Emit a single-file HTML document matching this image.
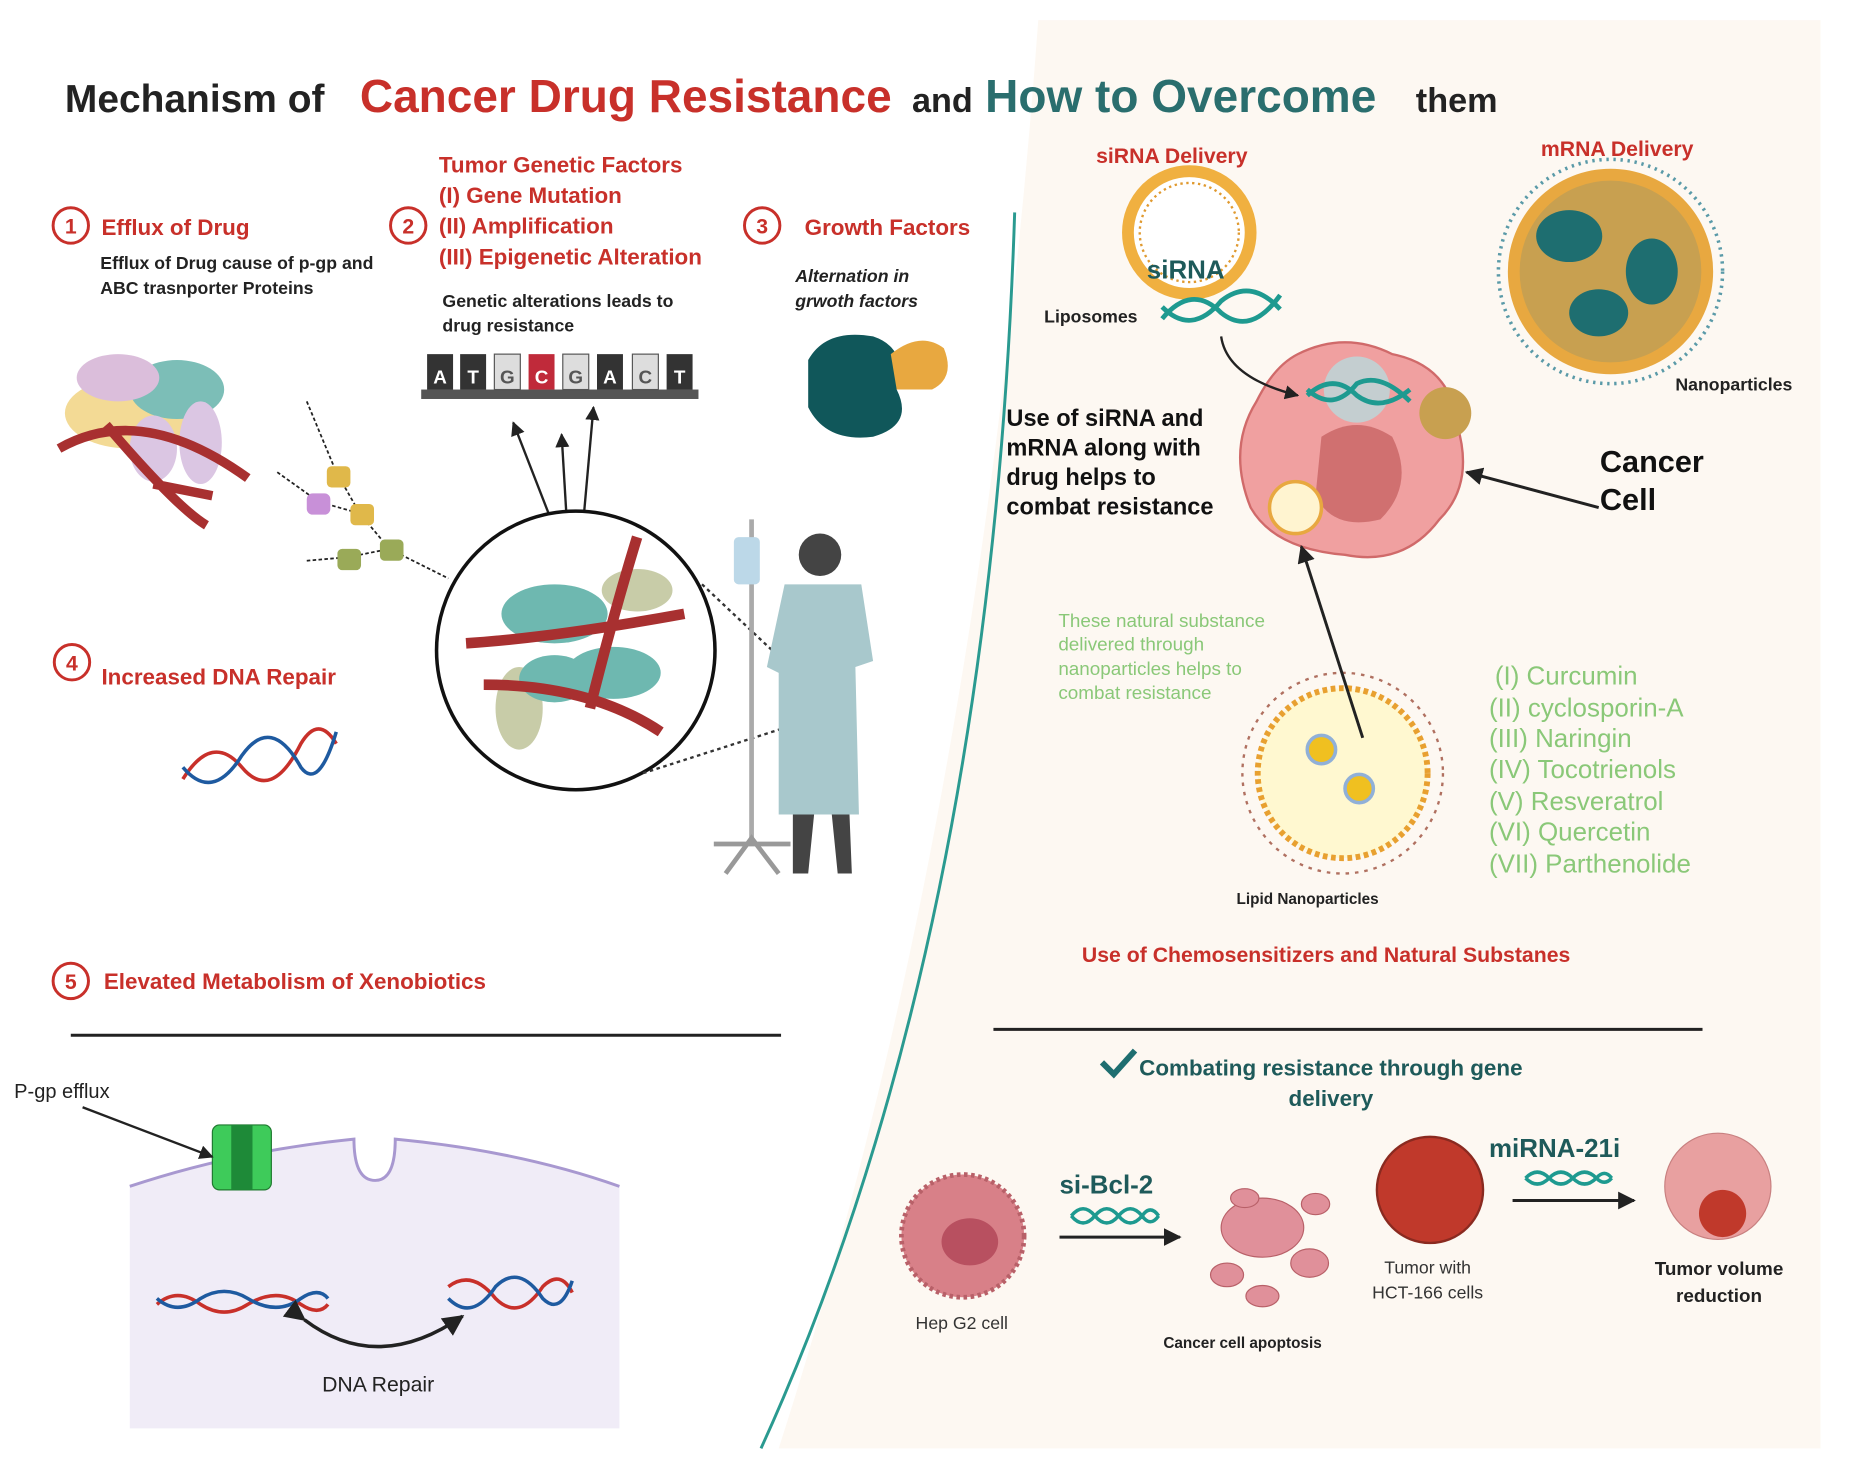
<!DOCTYPE html>
<html><head><meta charset="utf-8"><style>
html,body{margin:0;padding:0;background:#fff}
svg{display:block}
text{font-family:"Liberation Sans",sans-serif}
</style></head><body>
<svg width="1850" height="1472" viewBox="0 0 1568 1247" preserveAspectRatio="none" xmlns="http://www.w3.org/2000/svg">
<defs>
<marker id="ah" viewBox="0 0 10 10" refX="9" refY="5" markerWidth="6" markerHeight="6" orient="auto"><path d="M0,0L10,5L0,10z" fill="#222"/></marker>
</defs>
<rect width="1568" height="1247" fill="#fff"/>
<path d="M880,17 L1543,17 L1543,1227 L660,1227 Q830,700 880,17z" fill="#fdf8f2"/>
<path d="M860,180 Q840,800 645,1227" fill="none" stroke="#2a9a90" stroke-width="2.5"/>
<text x="55" y="95" font-size="33" font-weight="bold" fill="#222">Mechanism of</text>
<text x="305" y="95" font-size="39" font-weight="bold" fill="#c8302a">Cancer Drug Resistance</text>
<text x="773" y="95" font-size="29" font-weight="bold" fill="#222">and</text>
<text x="835" y="95" font-size="39" font-weight="bold" fill="#2a6e6e">How to Overcome</text>
<text x="1200" y="95" font-size="29" font-weight="bold" fill="#222">them</text>
<g fill="none" stroke="#c8302a" stroke-width="2.5"><circle cx="60" cy="191" r="15"/><circle cx="346" cy="191" r="15"/><circle cx="646" cy="191" r="15"/><circle cx="61" cy="561" r="15"/><circle cx="60" cy="831" r="15"/></g>
<g fill="#c8302a" font-size="18" font-weight="bold" text-anchor="middle"><text x="60" y="198">1</text><text x="346" y="198">2</text><text x="646" y="198">3</text><text x="61" y="568">4</text><text x="60" y="838">5</text></g>
<g fill="#c8302a" font-size="19" font-weight="bold">
<text x="86" y="199">Efflux of Drug</text>
<text x="372" y="146">Tumor Genetic Factors</text>
<text x="372" y="172">(I) Gene Mutation</text>
<text x="372" y="198">(II) Amplification</text>
<text x="372" y="224">(III)  Epigenetic Alteration</text>
<text x="682" y="199">Growth Factors</text>
<text x="86" y="580">Increased DNA Repair</text>
<text x="88" y="838">Elevated Metabolism of Xenobiotics</text>
</g>
<g fill="#222" font-size="15" font-weight="bold">
<text x="85" y="228">Efflux of Drug cause of p-gp and</text>
<text x="85" y="249">ABC trasnporter Proteins</text>
<text x="375" y="260">Genetic alterations leads to</text>
<text x="375" y="281">drug resistance</text>
<text x="674" y="239" font-style="italic">Alternation in</text>
<text x="674" y="260" font-style="italic">grwoth factors</text>
</g>
<g opacity="0.9">
<ellipse cx="110" cy="350" rx="55" ry="30" fill="#f2d68a"/>
<ellipse cx="150" cy="330" rx="40" ry="25" fill="#6eb8b0"/>
<ellipse cx="100" cy="320" rx="35" ry="20" fill="#d8b8d8"/>
<ellipse cx="170" cy="375" rx="18" ry="35" fill="#d8c0e0"/>
<ellipse cx="130" cy="380" rx="20" ry="28" fill="#d8c0e0"/>
</g>
<path d="M50,380 Q120,340 210,405 M90,360 Q150,430 175,445 M130,410 L180,420" stroke="#a83030" stroke-width="8" fill="none"/>
<path d="M260,340 L285,400 L305,435 L330,465 L380,490 M235,400 L270,425 L305,435 M260,475 L295,472 L330,465" stroke="#222" stroke-width="1.5" fill="none" stroke-dasharray="3 2"/>
<rect x="277" y="395" width="20" height="18" rx="4" fill="#e0b84a"/><rect x="297" y="427" width="20" height="18" rx="4" fill="#e0b84a"/>
<rect x="260" y="418" width="20" height="18" rx="5" fill="#c890d8"/><rect x="286" y="465" width="20" height="18" rx="4" fill="#9aaa58"/><rect x="322" y="457" width="20" height="18" rx="4" fill="#9aaa58"/>
<rect x="357" y="330" width="235" height="8" fill="#555"/>
<g font-size="16" font-weight="bold" text-anchor="middle">
<rect x="362" y="300" width="22" height="30" fill="#333"/><text x="373" y="325" fill="#fff">A</text>
<rect x="390" y="300" width="22" height="30" fill="#333"/><text x="401" y="325" fill="#fff">T</text>
<rect x="419" y="300" width="22" height="30" fill="#ddd" stroke="#555"/><text x="430" y="325" fill="#555">G</text>
<rect x="448" y="300" width="22" height="30" fill="#c02a3a"/><text x="459" y="325" fill="#fff">C</text>
<rect x="477" y="300" width="22" height="30" fill="#ddd" stroke="#555"/><text x="488" y="325" fill="#555">G</text>
<rect x="506" y="300" width="22" height="30" fill="#333"/><text x="517" y="325" fill="#fff">A</text>
<rect x="536" y="300" width="22" height="30" fill="#ddd" stroke="#555"/><text x="547" y="325" fill="#555">C</text>
<rect x="565" y="300" width="22" height="30" fill="#333"/><text x="576" y="325" fill="#fff">T</text>
</g>
<g stroke="#222" stroke-width="2" marker-end="url(#ah)"><line x1="465" y1="435" x2="435" y2="358"/><line x1="480" y1="435" x2="476" y2="368"/><line x1="495" y1="435" x2="503" y2="345"/></g>
<path d="M685,305 Q700,278 740,285 Q770,295 760,330 Q775,360 740,370 Q700,375 685,345z" fill="#10575a"/>
<path d="M755,300 Q780,280 800,295 Q810,320 790,330 L760,330z" fill="#e8a840"/>
<circle cx="488" cy="551" r="118" fill="#fff" stroke="#111" stroke-width="3"/>
<ellipse cx="470" cy="520" rx="45" ry="25" fill="#6eb8b0"/><ellipse cx="520" cy="570" rx="40" ry="22" fill="#6eb8b0"/><ellipse cx="440" cy="600" rx="20" ry="35" fill="#c8cca8"/><ellipse cx="540" cy="500" rx="30" ry="18" fill="#c8cca8"/><ellipse cx="470" cy="575" rx="30" ry="20" fill="#6eb8b0"/>
<path d="M395,545 Q470,540 580,520 M410,580 Q500,580 560,620 M540,455 Q520,520 500,600" stroke="#a83030" stroke-width="9" fill="none"/>
<path d="M595,495 L680,575 M545,655 L670,615" stroke="#333" stroke-width="2" stroke-dasharray="3 3"/>
<line x1="637" y1="440" x2="637" y2="710" stroke="#aaa" stroke-width="4"/>
<path d="M605,715 L670,715 M615,740 L637,710 L660,740" stroke="#999" stroke-width="4" fill="none"/>
<rect x="622" y="455" width="22" height="40" rx="4" fill="#bcd8e8"/>
<circle cx="695" cy="470" r="18" fill="#444"/>
<path d="M665,495 L730,495 L740,560 L725,565 L728,690 L660,690 L660,570 L650,565z" fill="#a8c8cc"/>
<path d="M672,690 L672,740 L685,740 L690,690 M705,690 L710,740 L722,740 L720,690" fill="#444"/>
<g fill="none" stroke-width="3"><path d="M155,660 Q180,620 205,650 Q230,680 255,630 Q270,605 285,630" stroke="#c8302a"/><path d="M155,650 Q180,680 205,640 Q230,605 255,650 Q270,670 285,620" stroke="#1e5aa0"/></g>
<line x1="60" y1="877" x2="662" y2="877" stroke="#222" stroke-width="2.5"/>
<path d="M110,1005 Q200,975 300,965 Q300,1000 318,1000 Q335,1000 335,965 Q440,975 525,1005 L525,1210 L110,1210z" fill="#f0ecf7"/>
<path d="M110,1005 Q200,975 300,965 Q300,1000 318,1000 Q335,1000 335,965 Q440,975 525,1005" fill="none" stroke="#a898d0" stroke-width="2.5"/>
<rect x="180" y="953" width="50" height="55" rx="6" fill="#3ecb5a" stroke="#207a30"/><rect x="196" y="953" width="18" height="55" fill="#1e8a38"/>
<text x="12" y="930" font-size="17" fill="#222">P-gp efflux</text>
<line x1="70" y1="938" x2="180" y2="980" stroke="#222" stroke-width="2" marker-end="url(#ah)"/>
<g fill="none" stroke-width="3"><path d="M133,1105 Q150,1090 170,1105 Q190,1118 210,1105 Q235,1090 255,1105 Q270,1115 278,1105" stroke="#c8302a"/><path d="M133,1100 Q150,1115 170,1100 Q190,1088 210,1100 Q235,1115 255,1100 Q270,1090 278,1100" stroke="#1e5aa0"/>
<path d="M380,1090 Q400,1075 420,1100 Q440,1120 460,1090 Q475,1075 485,1095" stroke="#c8302a"/><path d="M380,1100 Q400,1120 420,1090 Q440,1070 460,1100 Q475,1115 485,1085" stroke="#1e5aa0"/>
<path d="M258,1118 Q320,1165 392,1115" stroke="#222" stroke-width="3" marker-end="url(#ah)" marker-start="url(#ah)"/></g>
<text x="273" y="1179" font-size="18" fill="#222">DNA Repair</text>
<g fill="#c8302a" font-size="18" font-weight="bold"><text x="929" y="138">siRNA Delivery</text><text x="1306" y="132">mRNA Delivery</text><text x="917" y="815">Use of Chemosensitizers and Natural Substanes</text></g>
<circle cx="1008" cy="197" r="52" fill="#fff" stroke="#f0b040" stroke-width="10"/>
<circle cx="1008" cy="197" r="42" fill="#fff" stroke="#e09a30" stroke-width="2" stroke-dasharray="2 3"/>
<text x="972" y="236" font-size="22" font-weight="bold" fill="#1e5a5a">siRNA</text>
<path d="M985,270 Q1010,240 1035,265 Q1060,285 1085,250 M985,260 Q1010,285 1035,255 Q1060,235 1085,262" fill="none" stroke="#1e9a90" stroke-width="4"/>
<text x="885" y="273" font-size="15" font-weight="bold" fill="#222">Liposomes</text>
<circle cx="1365" cy="230" r="82" fill="#c8a050" stroke="#e8a840" stroke-width="10"/>
<circle cx="1365" cy="230" r="95" fill="none" stroke="#5a9aa8" stroke-width="3" stroke-dasharray="2 4"/>
<ellipse cx="1330" cy="200" rx="28" ry="22" fill="#1e6e70"/><ellipse cx="1400" cy="230" rx="22" ry="28" fill="#1e6e70"/><ellipse cx="1355" cy="265" rx="25" ry="20" fill="#1e6e70"/>
<text x="1420" y="331" font-size="15" font-weight="bold" fill="#222">Nanoparticles</text>
<path d="M1100,300 Q1140,280 1180,300 Q1230,310 1235,360 Q1250,410 1220,440 Q1190,480 1140,470 Q1080,465 1060,430 Q1040,380 1065,340 Q1080,310 1100,300z" fill="#f0a0a0" stroke="#d06a6a" stroke-width="2"/>
<path d="M1120,370 Q1150,350 1180,370 Q1200,410 1170,440 Q1130,450 1115,420z" fill="#d07070"/>
<circle cx="1150" cy="330" r="28" fill="#bcd6d8" opacity="0.85"/>
<circle cx="1225" cy="350" r="22" fill="#c8a050"/>
<circle cx="1098" cy="430" r="22" fill="#fff4d0" stroke="#e8a840" stroke-width="3"/>
<path d="M1108,335 Q1130,315 1150,335 Q1170,350 1195,330 M1108,330 Q1130,350 1150,325 Q1170,315 1195,340" fill="none" stroke="#1e9a90" stroke-width="4"/>
<path d="M1035,285 Q1040,320 1100,335" stroke="#222" stroke-width="2" fill="none" marker-end="url(#ah)"/>
<line x1="1355" y1="430" x2="1243" y2="400" stroke="#222" stroke-width="2.5" marker-end="url(#ah)"/>
<text x="1356" y="400" font-size="26" font-weight="bold" fill="#111">Cancer</text><text x="1356" y="432" font-size="26" font-weight="bold" fill="#111">Cell</text>
<g font-size="20" font-weight="bold" fill="#111"><text x="853" y="361">Use of siRNA and</text><text x="853" y="386">mRNA along with</text><text x="853" y="411">drug helps to</text><text x="853" y="436">combat resistance</text></g>
<g font-size="16" fill="#8ac878"><text x="897" y="531">These natural substance</text><text x="897" y="551">delivered through</text><text x="897" y="572">nanoparticles helps to</text><text x="897" y="592">combat resistance</text></g>
<circle cx="1138" cy="655" r="72" fill="#fff8d0" stroke="#e8a030" stroke-width="5" stroke-dasharray="4 3"/>
<circle cx="1138" cy="655" r="85" fill="none" stroke="#b07060" stroke-width="2" stroke-dasharray="3 5"/>
<circle cx="1120" cy="635" r="12" fill="#f0c020" stroke="#90b0d8" stroke-width="3"/><circle cx="1152" cy="668" r="12" fill="#f0c020" stroke="#90b0d8" stroke-width="3"/>
<line x1="1155" y1="625" x2="1103" y2="463" stroke="#222" stroke-width="2.5" marker-end="url(#ah)"/>
<text x="1048" y="766" font-size="13" font-weight="bold" fill="#222">Lipid Nanoparticles</text>
<g font-size="22" fill="#8ac878"><text x="1267" y="580">(I) Curcumin</text><text x="1262" y="607">(II) cyclosporin-A</text><text x="1262" y="633">(III) Naringin</text><text x="1262" y="659">(IV) Tocotrienols</text><text x="1262" y="686">(V) Resveratrol</text><text x="1262" y="712">(VI) Quercetin</text><text x="1262" y="739">(VII) Parthenolide</text></g>
<line x1="842" y1="872" x2="1443" y2="872" stroke="#222" stroke-width="2.5"/>
<path d="M934,900 L944,910 L962,890" fill="none" stroke="#1e6e70" stroke-width="5"/>
<g font-size="19" font-weight="bold" fill="#1e5a5a" text-anchor="middle"><text x="1128" y="911">Combating resistance through gene</text><text x="1128" y="937">delivery</text></g>
<circle cx="816" cy="1047" r="52" fill="#d88088" stroke="#b86068" stroke-dasharray="3 3" stroke-width="4"/>
<ellipse cx="822" cy="1052" rx="24" ry="20" fill="#b85060"/>
<text x="776" y="1126" font-size="15" fill="#333">Hep G2 cell</text>
<text x="898" y="1011" font-size="22" font-weight="bold" fill="#1e5a5a">si-Bcl-2</text>
<path d="M908,1030 Q918,1018 928,1030 Q938,1042 948,1030 Q958,1018 968,1030 Q975,1040 982,1030 M908,1030 Q918,1042 928,1030 Q938,1018 948,1030 Q958,1042 968,1030 Q975,1020 982,1030" fill="none" stroke="#1e9a90" stroke-width="3"/>
<line x1="898" y1="1048" x2="1000" y2="1048" stroke="#222" stroke-width="2.5" marker-end="url(#ah)"/>
<g fill="#e0909a" stroke="#b86068"><ellipse cx="1070" cy="1040" rx="35" ry="25"/><ellipse cx="1040" cy="1080" rx="14" ry="10"/><ellipse cx="1110" cy="1070" rx="16" ry="12"/><ellipse cx="1055" cy="1015" rx="12" ry="8"/><ellipse cx="1115" cy="1020" rx="12" ry="9"/><ellipse cx="1070" cy="1098" rx="14" ry="9"/></g>
<text x="986" y="1142" font-size="13" font-weight="bold" fill="#222">Cancer cell apoptosis</text>
<circle cx="1212" cy="1008" r="45" fill="#c0392b" stroke="#8a2a20" stroke-width="2"/>
<g font-size="15" fill="#333" text-anchor="middle"><text x="1210" y="1079">Tumor with</text><text x="1210" y="1100">HCT-166 cells</text></g>
<text x="1262" y="980" font-size="22" font-weight="bold" fill="#1e5a5a">miRNA-21i</text>
<path d="M1293,998 Q1303,988 1313,998 Q1323,1008 1333,998 Q1343,988 1353,998 Q1360,1005 1366,998 M1293,998 Q1303,1008 1313,998 Q1323,988 1333,998 Q1343,1008 1353,998 Q1360,990 1366,998" fill="none" stroke="#1e9a90" stroke-width="3"/>
<line x1="1282" y1="1017" x2="1385" y2="1017" stroke="#222" stroke-width="2.5" marker-end="url(#ah)"/>
<circle cx="1456" cy="1005" r="45" fill="#e8a0a0" stroke="#c88080"/>
<circle cx="1460" cy="1028" r="20" fill="#c0392b"/>
<g font-size="16" font-weight="bold" fill="#222" text-anchor="middle"><text x="1457" y="1080">Tumor volume</text><text x="1457" y="1103">reduction</text></g>
</svg>
</body></html>
